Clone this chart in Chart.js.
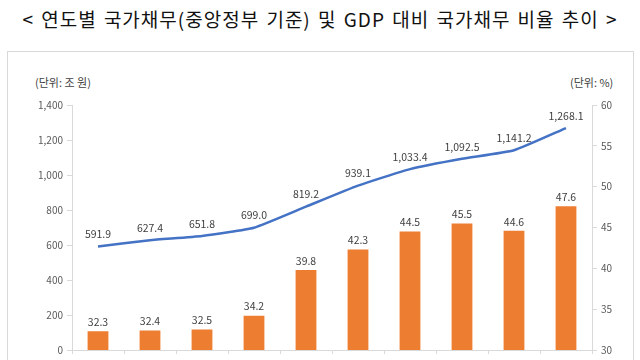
<!DOCTYPE html>
<html>
<head>
<meta charset="utf-8">
<script src="https://cdn.jsdelivr.net/npm/chart.js@4"></script>
<style>
  html, body { margin: 0; padding: 0; background: #fff; }
  body { width: 640px; height: 360px; position: relative; overflow: hidden; font-family: "Noto Sans CJK KR", sans-serif; }
  #title { position: absolute; left: 0; top: 5px; width: 640px; text-align: center; font-size: 19px; color: #111; letter-spacing: 1px; word-spacing: 2px; white-space: nowrap; }
  #frame { position: absolute; left: 7px; top: 51px; width: 625px; height: 330px; border: 1px solid #d9d9d9; }
  .unit { position: absolute; top: 74px; font-size: 11px; color: #404040; }
  #chart { position: absolute; left: 0; top: 0; }
</style>
</head>
<body>
<div id="title">&lt; 연도별 국가채무(중앙정부 기준) 및 GDP 대비 국가채무 비율 추이 &gt;</div>
<div id="frame"></div>
<div class="unit" style="left:35px">(단위: 조 원)</div>
<div class="unit" style="left:570px">(단위: %)</div>
<canvas id="chart" width="640" height="360"></canvas>
<script>
// years are cut off below the picture, kept for the category axis
var years = ['2011', '2012', '2013', '2014', '2015', '2016', '2017', '2018', '2019', '2020'];
var debt = [591.9, 627.4, 651.8, 699.0, 819.2, 939.1, 1033.4, 1092.5, 1141.2, 1268.1];
var ratio = [32.3, 32.4, 32.5, 34.2, 39.8, 42.3, 44.5, 45.5, 44.6, 47.6];

var fmt = function(v) {
  return v.toLocaleString('en-US', { minimumFractionDigits: 1, maximumFractionDigits: 1 });
};

// data labels above every bar and line point
var valueLabels = {
  id: 'valueLabels',
  afterDatasetsDraw: function(chart) {
    var ctx = chart.ctx;
    ctx.save();
    ctx.font = '10.5px "Noto Sans CJK KR", sans-serif';
    ctx.fillStyle = '#404040';
    ctx.textAlign = 'center';
    ctx.textBaseline = 'bottom';
    chart.data.datasets.forEach(function(ds, i) {
      var meta = chart.getDatasetMeta(i);
      meta.data.forEach(function(el, j) {
        var off = ds.type === 'line' ? 7 : 4;
        ctx.fillText(fmt(ds.data[j]), el.x, el.y - off);
      });
    });
    ctx.restore();
  }
};

var ctx = document.getElementById('chart').getContext('2d');
var chart = new Chart(ctx, {
  data: {
    labels: years,
    datasets: [{
      type: 'line',
      label: '국가채무',
      data: debt,
      yAxisID: 'y',
      borderColor: '#4472c4',
      borderWidth: 2.5,
      pointRadius: 0,
      tension: 0.15,
      order: 0
    }, {
      type: 'bar',
      label: 'GDP 대비 국가채무 비율',
      data: ratio,
      yAxisID: 'y1',
      backgroundColor: '#ed7d31',
      barPercentage: 0.4,
      categoryPercentage: 1,
      order: 1
    }]
  },
  options: {
    responsive: false,
    animation: false,
    layout: { padding: { top: 105, left: 0, right: 0, bottom: 0 } },
    plugins: { legend: { display: false }, tooltip: { enabled: false } },
    scales: {
      x: {
        offset: true,
        ticks: { display: false },
        grid: { drawOnChartArea: false, tickLength: 4, color: '#d9d9d9', offset: true },
        border: { color: '#d9d9d9' },
        afterFit: function(s) { s.height = 7; }
      },
      y: {
        position: 'left',
        min: 0,
        max: 1400,
        ticks: { stepSize: 200, color: '#595959', font: { size: 10, family: 'Noto Sans CJK KR' }, padding: 4 },
        grid: { drawOnChartArea: false, tickLength: 5, color: '#d9d9d9' },
        border: { color: '#d9d9d9' },
        afterFit: function(s) { s.width = 72; }
      },
      y1: {
        position: 'right',
        min: 30,
        max: 60,
        ticks: { stepSize: 5, color: '#595959', font: { size: 10, family: 'Noto Sans CJK KR' }, padding: 4 },
        grid: { drawOnChartArea: false, tickLength: 5, color: '#d9d9d9' },
        border: { color: '#d9d9d9' },
        afterFit: function(s) { s.width = 48; }
      }
    }
  },
  plugins: [valueLabels]
});
</script>
</body>
</html>
